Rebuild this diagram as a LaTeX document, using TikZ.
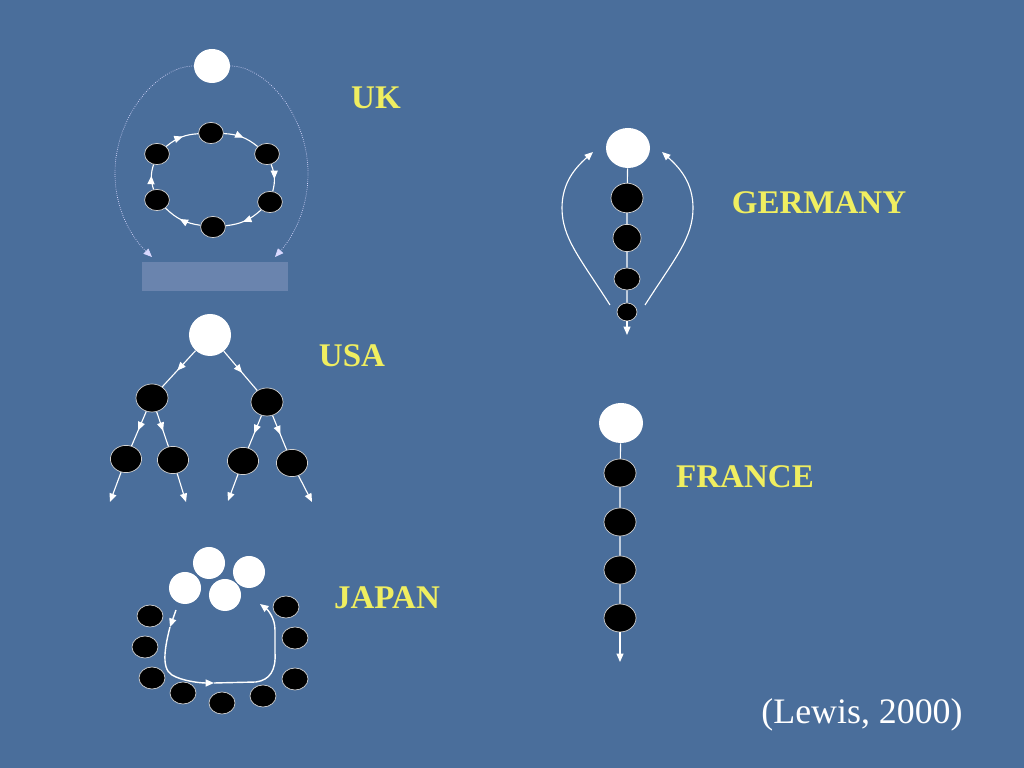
\documentclass[tikz,border=0pt]{standalone}
\usepackage{fontspec}
\setmainfont{Liberation Serif}
\usetikzlibrary{shapes.geometric,arrows.meta,decorations.markings}
\definecolor{bgblue}{RGB}{74,110,155}
\definecolor{lab}{RGB}{240,238,96}
\definecolor{rectc}{RGB}{106,132,174}
\tikzset{
 blk/.style={ellipse, fill=black, draw=white!65!gray, line width=0.5pt, inner sep=0pt, minimum width=0.8cm, minimum height=0.7cm},
 wht/.style={ellipse, fill=white, draw=none, inner sep=0pt, minimum width=1.1cm, minimum height=1cm},
 conn/.style={draw=white, line width=0.8pt},
 tip/.style={-{Triangle[length=6pt,width=5pt]}},
 midarr/.style={postaction={decorate}, decoration={markings, mark=at position 0.55 with {\arrow{Triangle[length=6pt,width=5pt]}}}},
 lbl/.style={text=lab, font=\bfseries\fontsize{23.5}{28}\selectfont},
 ukb/.style={blk, minimum width=0.62cm, minimum height=0.53cm},
 jpb/.style={blk, minimum width=0.65cm, minimum height=0.55cm},
 jpw/.style={wht, minimum width=0.8cm, minimum height=0.8cm},
 dots/.style={white!85!blue, densely dotted, line width=0.5pt},
}
\begin{document}
\begin{tikzpicture}[x=0.025cm,y=0.025cm]
\fill[bgblue] (0,0) rectangle (1024,768);
\useasboundingbox (0,0) rectangle (1024,768);

% ---------- UK ----------
\fill[rectc] (142,477) rectangle (288,506);
\node[wht, minimum width=0.9cm, minimum height=0.85cm] (uk) at (212,702) {};
\node[ukb] (t)  at (211,635) {};
\node[ukb] (rt) at (267,614) {};
\node[ukb] (rb) at (270,566) {};
\node[ukb] (b)  at (213,541) {};
\node[ukb] (lb) at (157,568) {};
\node[ukb] (lt) at (157,614) {};
\foreach \a/\b in {t/rt, rt/rb, rb/b, b/lb, lb/lt, lt/t}
  \draw[conn, midarr] (\a) to[bend left=18] (\b);
\coordinate (ukL) at (152,511);
\coordinate (ukR) at (275,511);
\draw[dots, tip] (uk.west) .. controls (158,702) and (115,652) .. (115,595) .. controls (115,560) and (130,532) .. (ukL);
\draw[dots, tip] (uk.east) .. controls (266,702) and (308,652) .. (308,595) .. controls (308,560) and (294,532) .. (ukR);
\node[lbl] (ukl) at (376,670) {UK};

% ---------- USA ----------
\node[wht, minimum width=1.05cm, minimum height=1.05cm] (us) at (210,433) {};
\node[blk] (ua) at (152,370) {};
\node[blk] (ub) at (267,366) {};
\node[blk, minimum width=0.78cm, minimum height=0.68cm] (c1) at (126,309) {};
\node[blk, minimum width=0.78cm, minimum height=0.68cm] (c2) at (173,308) {};
\node[blk, minimum width=0.78cm, minimum height=0.68cm] (c3) at (243,307) {};
\node[blk, minimum width=0.78cm, minimum height=0.68cm] (c4) at (292,305) {};
\coordinate (e1) at (110,266);
\coordinate (e2) at (186,266);
\coordinate (e3) at (228,267);
\coordinate (e4) at (312,266);
\foreach \a/\b in {us/ua, us/ub, ua/c1, ua/c2, ub/c3, ub/c4}
  \draw[conn, midarr] (\a) -- (\b);
\foreach \a/\b in {c1/e1, c2/e2, c3/e3, c4/e4}
  \draw[conn, tip] (\a) -- (\b);
\node[lbl] (usl) at (352,412) {USA};

% ---------- JAPAN ----------
\node[jpw] (w1) at (209,205) {};
\node[jpw] (w2) at (249,196) {};
\node[jpw] (w3) at (185,180) {};
\node[jpw] (w4) at (225,173) {};
\node[jpb] (j1) at (150,152) {};
\node[jpb] (j2) at (145,121) {};
\node[jpb] (j3) at (152,90) {};
\node[jpb] (j4) at (183,75) {};
\node[jpb] (j5) at (222,65) {};
\node[jpb] (j6) at (263,72) {};
\node[jpb] (j7) at (295,89) {};
\node[jpb] (j8) at (295,130) {};
\node[jpb] (j9) at (286,161) {};
\coordinate (js) at (176,158);
\coordinate (jm1) at (170,141);
\coordinate (jm2) at (214,85);
\coordinate (je) at (260,164);
\draw[conn, line width=1pt, tip] (js) -- (jm1);
\draw[conn, line width=1pt, tip] (jm1) .. controls (166,125) and (160,100) .. (172,93) .. controls (182,87) and (200,85) .. (jm2);
\draw[conn, line width=1pt, tip] (jm2) -- (256,86) .. controls (270,88) and (276,98) .. (275,115) -- (275,138) .. controls (275,150) and (268,158) .. (je);
\node[lbl] (jpl) at (387,170) {JAPAN};

% ---------- GERMANY ----------
\node[wht] (gw) at (628,620) {};
\node[blk, minimum width=0.8cm, minimum height=0.74cm] (g1) at (627,570) {};
\node[blk, minimum width=0.7cm, minimum height=0.68cm] (g2) at (627,530) {};
\node[blk, minimum width=0.65cm, minimum height=0.55cm] (g3) at (627,489) {};
\node[blk, minimum width=0.5cm, minimum height=0.45cm] (g4) at (627,456) {};
\coordinate (gt) at (627,433);
\draw[conn] (gw) -- (g1) -- (g2) -- (g3) -- (g4);
\draw[conn, tip] (g4) -- (gt);
\coordinate (gls) at (610,463);
\coordinate (gle) at (593,616);
\coordinate (grs) at (645,463);
\coordinate (gre) at (662,616);
\draw[conn, tip] (gls) .. controls (580,510) and (562,530) .. (562,560) .. controls (562,585) and (575,600) .. (gle);
\draw[conn, tip] (grs) .. controls (675,510) and (693,530) .. (693,560) .. controls (693,585) and (680,600) .. (gre);
\node[lbl] (gel) at (819,565) {GERMANY};

% ---------- FRANCE ----------
\node[wht] (fw) at (621,345) {};
\node[blk] (f1) at (620,295) {};
\node[blk] (f2) at (620,246) {};
\node[blk] (f3) at (620,198) {};
\node[blk] (f4) at (620,150) {};
\coordinate (ft) at (620,106);
\draw[conn] (fw) -- (f1) -- (f2) -- (f3) -- (f4);
\draw[conn, tip] (f4) -- (ft);
\node[lbl] (frl) at (745,291) {FRANCE};

\node[text=white, font=\fontsize{25.5}{30}\selectfont] (cite) at (862,53) {(Lewis, 2000)};
\end{tikzpicture}
\end{document}
